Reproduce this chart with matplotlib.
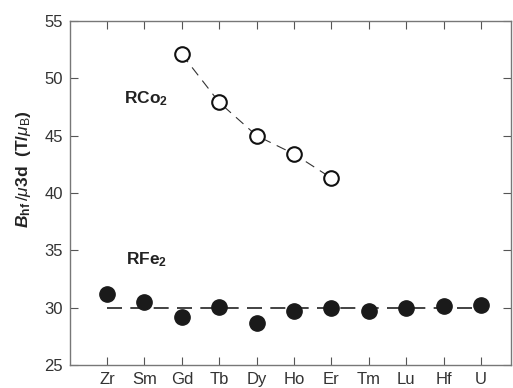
import numpy as np
import matplotlib
matplotlib.use("Agg")
import matplotlib.pyplot as plt

plt.rcParams['font.family'] = ['Liberation Sans', 'DejaVu Sans']
plt.rcParams['mathtext.fontset'] = 'custom'
plt.rcParams['mathtext.rm'] = 'Liberation Sans'
plt.rcParams['mathtext.it'] = 'Liberation Sans:italic'
plt.rcParams['mathtext.bf'] = 'Liberation Sans:bold'
plt.rcParams['mathtext.bfit'] = 'Liberation Sans:italic:bold'

# データ
elements = ["Zr", "Sm", "Gd", "Tb", "Dy", "Ho", "Er", "Tm", "Lu", "Hf", "U"]
rfe2 = [31.2, 30.5, 29.2, 30.1, 28.7, 29.7, 30.0, 29.7, 29.95, 30.15, 30.2]
rco2_elements = ["Gd", "Tb", "Dy", "Ho", "Er"]
rco2 = [52.1, 47.9, 45.0, 43.4, 41.3]
ref_level = 30.0

x = np.arange(len(elements))
x_co = [elements.index(e) for e in rco2_elements]

fig = plt.figure(figsize=(5.13, 3.88), dpi=100)
ax = fig.add_axes([70 / 513, 23 / 388, 441 / 513, 344 / 388])

# 平均線
ax.plot([x[0], x[-1]], [ref_level, ref_level], color='#222222', lw=1.2,
        dashes=(9, 5), zorder=1)

# RCo2 (白丸)
ax.plot(x_co, rco2, color='#333333', lw=0.8, dashes=(9, 6), zorder=1)
ax.plot(x_co, rco2, 'o', ms=10.5, mfc='white', mec='#111111', mew=1.5,
        zorder=3)

# RFe2 (黒丸)
ax.plot(x, rfe2, 'o', ms=11, color='#1a1a1a', zorder=3)

ax.text(1.05, 48.2, r'RCo$_\mathbf{2}$', fontsize=12.5, fontweight='bold',
        color='#222222', ha='center', va='center')
ax.text(1.05, 34.2, r'RFe$_\mathbf{2}$', fontsize=12.5, fontweight='bold',
        color='#222222', ha='center', va='center')

ax.set_xlim(-0.99, 10.8)
ax.set_ylim(25, 55)
ax.set_xticks(x)
ax.set_xticklabels(elements)
ax.set_yticks([25, 30, 35, 40, 45, 50, 55])

ax.tick_params(direction='in', top=True, right=True, length=6, width=0.8,
               color='#555555', labelsize=12, labelcolor='#333333', pad=5)
for s in ax.spines.values():
    s.set_color('#777777')
    s.set_linewidth(1.0)

ax.set_ylabel(r'$\mathbfit{B}_{\mathbf{hf}}\,/\mu$3d  (T/$\mu_\mathrm{B}$)',
              fontsize=12.5, fontweight='bold', color='#222222')
ax.yaxis.set_label_coords(-0.085, 0.57)

fig.savefig("out.png", dpi=100)
